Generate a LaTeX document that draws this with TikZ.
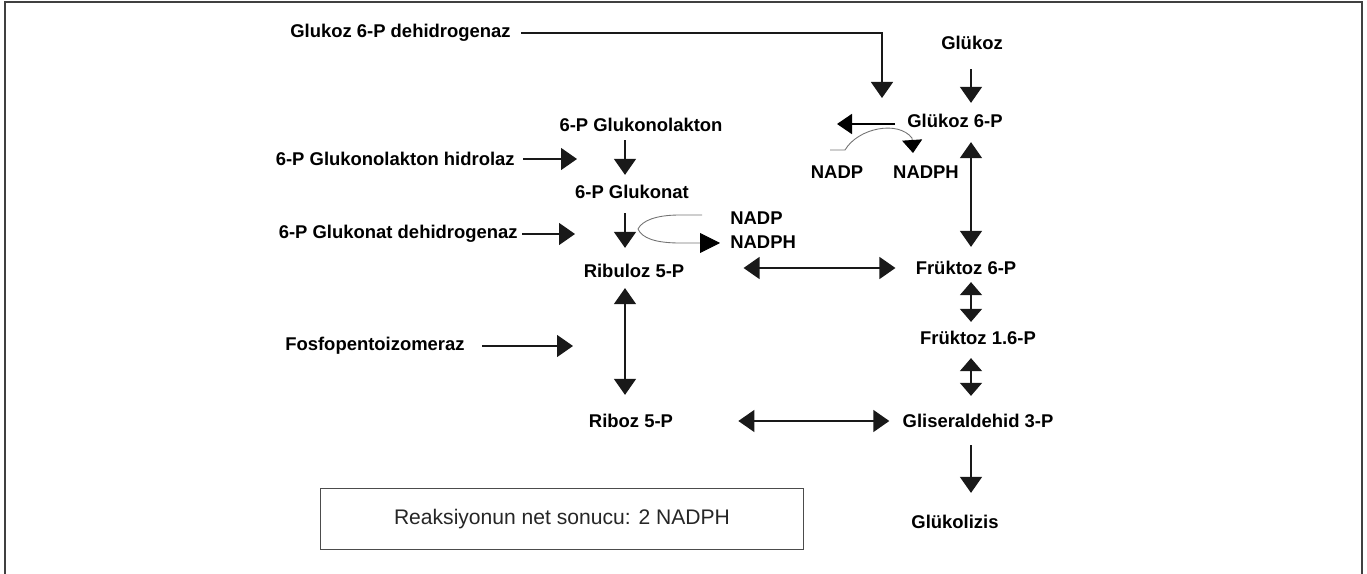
\documentclass[tikz,border=0pt]{standalone}
\usepackage{fontspec}
\setmainfont{Liberation Sans}
\usetikzlibrary{arrows.meta}

\begin{document}
\begin{tikzpicture}[
    x=0.02cm, y=-0.02cm,
    cmp/.style={font=\fontsize{10.5}{12}\selectfont\bfseries, inner sep=0pt},
    enz/.style={cmp, anchor=east},
    arr/.style={-{Triangle[length=0.32cm, width=0.44cm]}, line width=0.8pt, draw=black!90},
    dbl/.style={{Triangle[length=0.32cm, width=0.44cm]}-{Triangle[length=0.32cm, width=0.44cm]}, line width=0.8pt, draw=black!90},
    sdbl/.style={{Triangle[length=0.26cm, width=0.44cm]}-{Triangle[length=0.26cm, width=0.44cm]}, line width=0.8pt, draw=black!90},
    side/.style={line width=0.5pt, draw=black!55},
    frame/.style={line width=0.8pt, draw=black!75},
]
    \useasboundingbox (0,0) rectangle (1367,574);
    \draw[frame] (5,574) -- (5,2) -- (1362,2) -- (1362,574);

    % arrow columns
    \coordinate (colL) at (625,0);
    \coordinate (colR) at (971,0);

    % Glycolysis side
    \node[cmp] (glc) at (972,43) {Glükoz};
    \node[cmp] (g6p) at (955,121) {Glükoz 6-P};
    \node[cmp] (nadpa) at (837,172) {NADP};
    \node[cmp] (nadpha) at (926,172) {NADPH};
    \node[cmp] (f6p) at (966,268) {Früktoz 6-P};
    \node[cmp] (f16p) at (978,338) {Früktoz 1.6-P};
    \node[cmp] (gap) at (978,421) {Gliseraldehid 3-P};
    \node[cmp] (glyc) at (955,522) {Glükolizis};

    % Pentose phosphate side
    \node[cmp] (glk) at (641,125) {6-P Glukonolakton};
    \node[cmp] (gkn) at (632,192) {6-P Glukonat};
    \node[cmp, anchor=west] (nadpb) at (730,218) {NADP};
    \node[cmp, anchor=west] (nadphb) at (730,242) {NADPH};
    \node[cmp] (ru5p) at (634,271) {Ribuloz 5-P};
    \node[cmp] (r5p) at (631,421) {Riboz 5-P};

    % Enzymes (left side)
    \node[enz] (e1) at (511,33) {Glukoz 6-P dehidrogenaz};
    \node[enz] (e2) at (515,159) {6-P Glukonolakton hidrolaz};
    \node[enz] (e3) at (518,234) {6-P Glukonat dehidrogenaz};
    \node[enz] (e4) at (465,346) {Fosfopentoizomeraz};

    \node[draw=black!70, line width=0.6pt, minimum width=9.68cm, minimum height=1.22cm,
          inner sep=0pt, font=\fontsize{12}{14}\selectfont, text=black!85] (net) at (562,519)
        {Reaksiyonun net sonucu: 2 NADPH};

    % main path
    \draw[arr, shorten <=0.38cm, shorten >=0.22cm] (glc.south -| colR) -- (g6p.north -| colR);
    \draw[dbl, shorten <=0.28cm, shorten >=0.28cm] (g6p.south -| colR) -- (f6p.north -| colR);
    \draw[sdbl, shorten <=0.14cm, shorten >=0.18cm] (f6p.south -| colR) -- (f16p.north -| colR);
    \draw[sdbl, shorten <=0.26cm, shorten >=0.36cm] (f16p.south -| colR) -- (gap.north -| colR);
    \draw[arr, shorten <=0.34cm, shorten >=0.44cm] (gap.south -| colR) -- (glyc.north -| colR);

    \draw[arr, shorten <=0.16cm, shorten >=0.2cm] (glk.south -| colL) -- (gkn.north -| colL);
    \draw[arr, shorten <=0.28cm, shorten >=0.32cm] (gkn.south -| colL) -- (ru5p.north -| colL);
    \draw[dbl, shorten <=0.2cm, shorten >=0.38cm] (ru5p.south -| colL) -- (r5p.north -| colL);

    \draw[dbl, shorten <=1.18cm, shorten >=0.4cm] (f6p.west -| ru5p.east) -- (f6p.west);
    \draw[dbl, shorten <=1.3cm, shorten >=0.26cm] (r5p.east) -- (r5p.east -| gap.west);

    % enzyme arrows
    \coordinate (g6pin) at (882,98);
    \coordinate (t2) at (577,159);
    \coordinate (t3) at (575,234);
    \coordinate (t4) at (573,346);
    \draw[arr, shorten <=0.2cm] (e1.east) -| (g6pin);
    \draw[arr, shorten <=0.16cm] (e2.east) -- (t2);
    \draw[arr, shorten <=0.08cm] (e3.east) -- (t3);
    \draw[arr, shorten <=0.34cm] (e4.east) -- (t4);

    % NADP -> NADPH at Glukoz 6-P
    \coordinate (g6pout) at (895,124);
    \coordinate (g6ptip) at (837,124);
    \draw[-{Triangle[length=0.3cm, width=0.4cm]}, line width=1pt, draw=black] (g6pout) -- (g6ptip);
    \draw[side, -{Triangle[length=0.26cm, width=0.4cm, black]}] (830,150) -- (845,150)
        .. controls (858,128) and (898,120) .. (912,138) -- (913,153);

    % NADP -> NADPH at 6-P Glukonat
    \coordinate (fork) at (638,229);
    \draw[side] (702,215) -- (680,215) .. controls (655,215) and (642,221) .. (fork);
    \draw[side, -{Triangle[length=0.4cm, width=0.4cm, black]}] (fork) .. controls (642,238) and (655,243) .. (680,243) -- (720,243);
\end{tikzpicture}
\end{document}
